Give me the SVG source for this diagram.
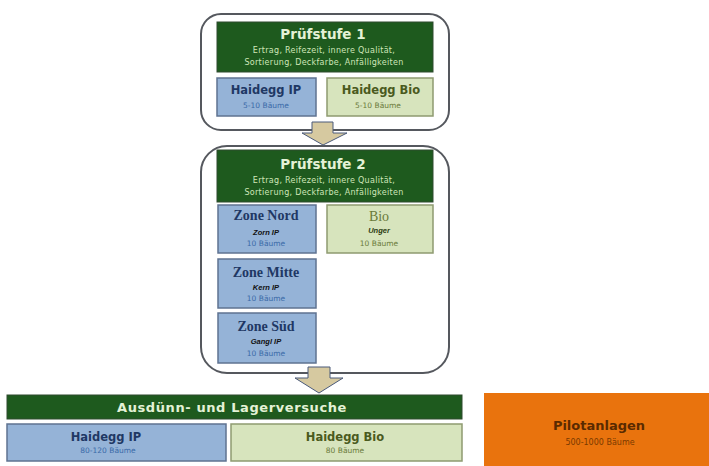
<svg xmlns="http://www.w3.org/2000/svg" width="709" height="466" viewBox="0 0 709 466">
<style>
.frame{fill:#fff;stroke:#55585e;stroke-width:2}
.hdr{fill:#1e5a1e;stroke:#2e4a2e;stroke-width:1}
.blue{fill:#95b3d7;stroke:#5f7391;stroke-width:1.5}
.olive{fill:#d7e4bd;stroke:#8e9a70;stroke-width:1.5}
.arrow{fill:#d6c9a0;stroke:#4a5a7a;stroke-width:1}
.ht{font-family:"DejaVu Sans",Verdana,sans-serif;font-weight:bold;fill:#e4f2d6;text-anchor:middle}
.hs{font-family:"DejaVu Sans",Verdana,sans-serif;fill:#cfe6b8;text-anchor:middle;font-size:8px;letter-spacing:0.3px}
.bt{font-family:"DejaVu Sans",Verdana,sans-serif;font-weight:bold;fill:#1f3864;text-anchor:middle;font-size:11.5px}
.bs{font-family:"DejaVu Sans",Verdana,sans-serif;fill:#3a6aa8;text-anchor:middle;font-size:7.5px}
.zt{font-family:"Liberation Serif","DejaVu Serif",serif;font-weight:bold;fill:#1f3864;text-anchor:middle;font-size:14px}
.zb{font-family:"Liberation Sans",Arial,sans-serif;font-weight:bold;font-style:italic;fill:#111;text-anchor:middle;font-size:7.5px}
.ot{font-family:"DejaVu Sans",Verdana,sans-serif;font-weight:bold;fill:#4a5a1e;text-anchor:middle;font-size:11.5px}
.os{font-family:"DejaVu Sans",Verdana,sans-serif;fill:#6a7a3a;text-anchor:middle;font-size:7.5px}
</style>

<g id="stage1">
<rect class="frame" x="201" y="14" width="248" height="116" rx="20"/>
<g id="stage1-header">
<rect class="hdr" x="217" y="22" width="216" height="50"/>
<text class="ht" x="323" y="39" font-size="13.5">Prüfstufe 1</text>
<text class="hs" x="324" y="53">Ertrag, Reifezeit, innere Qualität,</text>
<text class="hs" x="324" y="65">Sortierung, Deckfarbe, Anfälligkeiten</text>
</g>
<g id="s1-ip">
<rect class="blue" x="217" y="78" width="99" height="38"/>
<text class="bt" x="266" y="94">Haidegg IP</text>
<text class="bs" x="266" y="108">5-10 Bäume</text>
</g>
<g id="s1-bio">
<rect class="olive" x="327" y="78" width="106" height="38"/>
<text class="ot" x="381" y="94">Haidegg Bio</text>
<text class="os" x="378" y="108">5-10 Bäume</text>
</g>
</g>

<g id="stage2">
<rect class="frame" x="201" y="146" width="248" height="227" rx="26"/>
<g id="stage2-header">
<rect class="hdr" x="217" y="150" width="216" height="52"/>
<text class="ht" x="323" y="169" font-size="13.5">Prüfstufe 2</text>
<text class="hs" x="324" y="183">Ertrag, Reifezeit, innere Qualität,</text>
<text class="hs" x="324" y="195">Sortierung, Deckfarbe, Anfälligkeiten</text>
</g>
<g id="zone-nord">
<rect class="blue" x="218" y="205" width="98" height="48"/>
<text class="zt" x="266" y="220">Zone Nord</text>
<text class="zb" x="266" y="235">Zorn IP</text>
<text class="bs" x="266" y="246">10 Bäume</text>
</g>
<g id="bio">
<rect class="olive" x="327" y="205" width="106" height="48"/>
<text class="zt" x="379" y="221" style="fill:#6a7a3a;font-weight:normal">Bio</text>
<text class="zb" x="379" y="233" style="fill:#2a3a10">Unger</text>
<text class="os" x="379" y="246">10 Bäume</text>
</g>
<g id="zone-mitte">
<rect class="blue" x="218" y="259" width="98" height="49"/>
<text class="zt" x="266" y="277">Zone Mitte</text>
<text class="zb" x="266" y="290">Kern IP</text>
<text class="bs" x="266" y="301">10 Bäume</text>
</g>
<g id="zone-sued">
<rect class="blue" x="218" y="313" width="98" height="50"/>
<text class="zt" x="266" y="331">Zone Süd</text>
<text class="zb" x="266" y="344">Gangl IP</text>
<text class="bs" x="266" y="356">10 Bäume</text>
</g>
</g>

<g id="connectors">
<path class="arrow" d="M312,122 H333 V133 H347 L323,145 L302,133 H312 Z"/>
<path class="arrow" d="M308,367 H330 V378 H343 L319,393 L295,378 H308 Z"/>
</g>

<g id="trials">
<g id="trials-header">
<rect class="hdr" x="7" y="395" width="455" height="24"/>
<text class="ht" x="232" y="412" font-size="13" letter-spacing="0.6">Ausdünn- und Lagerversuche</text>
</g>
<g id="t-ip">
<rect class="blue" x="7" y="424" width="219" height="37"/>
<text class="bt" x="106" y="441">Haidegg IP</text>
<text class="bs" x="108" y="453">80-120 Bäume</text>
</g>
<g id="t-bio">
<rect class="olive" x="231" y="424" width="231" height="37"/>
<text class="ot" x="345" y="441">Haidegg Bio</text>
<text class="os" x="345" y="453">80 Bäume</text>
</g>
</g>

<g id="pilot">
<rect x="484" y="393" width="226" height="74" fill="#e9730d"/>
<text x="599" y="430" text-anchor="middle" font-family="DejaVu Sans,Verdana,sans-serif" font-weight="bold" font-size="13" fill="#5a2a00">Pilotanlagen</text>
<text x="600" y="445" text-anchor="middle" font-family="DejaVu Sans,Verdana,sans-serif" font-size="8" fill="#7a3a00">500-1000 Bäume</text>
</g>
</svg>
